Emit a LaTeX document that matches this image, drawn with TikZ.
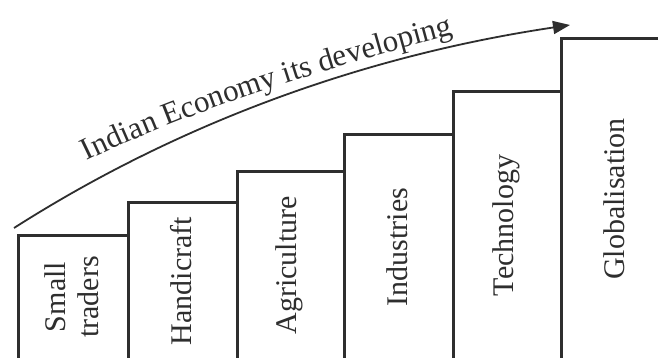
\documentclass[tikz,border=0pt]{standalone}
\usepackage{fontspec}
\setmainfont{Liberation Serif}
\usetikzlibrary{arrows.meta,decorations.text}
\definecolor{ink}{HTML}{2E2E2E}
\begin{document}
\begin{tikzpicture}[x=1pt,y=1pt,
  stepbox/.style={draw=ink,line width=2.6pt,rectangle,anchor=south west,inner sep=0pt},
  lbl/.style={rotate=90,font=\fontsize{30}{33}\selectfont,text=ink,align=center,inner sep=0pt},
  growth/.style={draw=ink,line width=1.8pt,-{Triangle[length=17pt,width=13pt]}}]
\useasboundingbox (0,0) rectangle (658,358);
\clip (0,0) rectangle (658,358);
\fill[white] (0,0) rectangle (658,358);
% steps
\node[stepbox,minimum width=110pt,minimum height=136pt] (b1) at (17,-15) {};
\node[stepbox,minimum width=109pt,minimum height=169pt] (b2) at (127,-15) {};
\node[stepbox,minimum width=107pt,minimum height=200pt] (b3) at (236,-15) {};
\node[stepbox,minimum width=109pt,minimum height=237pt] (b4) at (343,-15) {};
\node[stepbox,minimum width=108pt,minimum height=280pt] (b5) at (452,-15) {};
\node[stepbox,minimum width=108pt,minimum height=333pt] (b6) at (560,-15) {};
% labels
\node[lbl] (t1) at (72,61) {Small\\traders};
\node[lbl] (t2) at (181.5,77) {Handicraft};
\node[lbl] (t3) at (289.5,92.5) {Agriculture};
\node[lbl] (t4) at (397.5,111) {Industries};
\node[lbl] (t5) at (506,132.5) {Technology};
\node[lbl] (t6) at (614,159) {Globalisation};
% growth arrow
\coordinate (as) at (14,130);
\coordinate (ae) at (570,333);
\draw[growth] (as) .. controls (177,234) and (362,302) .. (ae);
% arrow caption
\path[decorate,decoration={text along path,text align=left,
  text={|\fontsize{31}{34}\selectfont\color{ink}|Indian Economy its developing}}]
  (87,197) .. controls (175,240) and (298,283) .. (470,328);
\end{tikzpicture}
\end{document}
